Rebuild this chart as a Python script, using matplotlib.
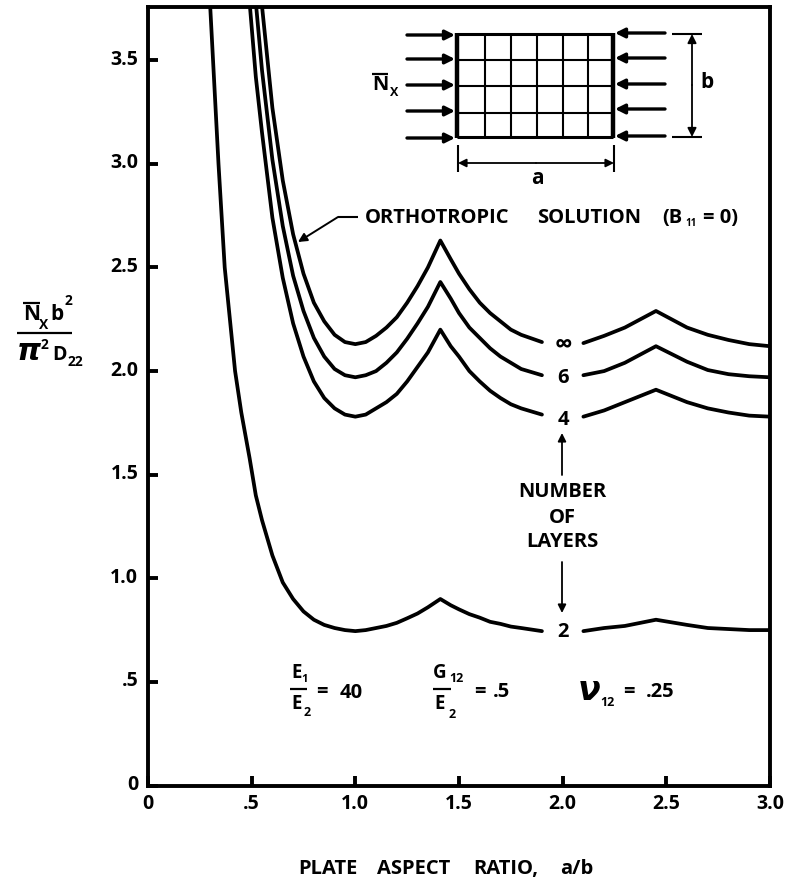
import numpy as np
import matplotlib
matplotlib.use("Agg")
import matplotlib.pyplot as plt
from matplotlib.transforms import ScaledTranslation

plt.rcParams["font.family"] = ["Open Sans", "DejaVu Sans"]
plt.rcParams["font.weight"] = "bold"

# Aspect ratios and buckling loads, nan = gap for the label
ratio = [0.30, 0.34, 0.37, 0.42, 0.45, 0.49, 0.52, 0.55, 0.60, 0.65, 0.70, 0.75,
         0.80, 0.85, 0.90, 0.95, 1.00, 1.05, 1.10, 1.15, 1.20, 1.25, 1.30, 1.35, 1.41,
         1.46, 1.50, 1.55, 1.60, 1.65, 1.70, 1.75, 1.80, 1.90, np.nan,
         2.10, 2.20, 2.30, 2.45, 2.60, 2.70, 2.80, 2.90, 3.00]
layers_inf = [np.nan, np.nan, np.nan, np.nan, np.nan, np.nan, 4.30, 3.76, 3.27, 2.92, 2.66, 2.47,
              2.33, 2.24, 2.175, 2.14, 2.13, 2.14, 2.17, 2.21, 2.26, 2.33, 2.41, 2.50, 2.63,
              2.54, 2.47, 2.395, 2.33, 2.28, 2.24, 2.20, 2.175, 2.14, np.nan,
              2.135, 2.17, 2.21, 2.29, 2.21, 2.175, 2.15, 2.13, 2.12]
layers_6 = [np.nan, np.nan, np.nan, np.nan, np.nan, 4.20, 3.78, 3.45, 3.02, 2.70, 2.46, 2.29,
            2.16, 2.07, 2.01, 1.98, 1.97, 1.98, 2.00, 2.04, 2.09, 2.156, 2.23, 2.31, 2.43,
            2.35, 2.28, 2.21, 2.16, 2.11, 2.07, 2.04, 2.01, 1.98, np.nan,
            1.98, 2.00, 2.04, 2.12, 2.045, 2.005, 1.985, 1.975, 1.97]
layers_4 = [np.nan, np.nan, np.nan, np.nan, np.nan, 3.78, 3.42, 3.15, 2.74, 2.45, 2.23, 2.07,
            1.95, 1.87, 1.82, 1.79, 1.78, 1.79, 1.82, 1.85, 1.89, 1.95, 2.02, 2.09, 2.20,
            2.12, 2.07, 2.00, 1.95, 1.905, 1.87, 1.84, 1.82, 1.79, np.nan,
            1.78, 1.81, 1.85, 1.91, 1.85, 1.82, 1.80, 1.785, 1.78]
layers_2 = [3.76, 3.00, 2.50, 2.00, 1.80, 1.58, 1.40, 1.28, 1.11, 0.98, 0.90, 0.84,
            0.80, 0.775, 0.76, 0.75, 0.745, 0.75, 0.76, 0.77, 0.785, 0.807, 0.83, 0.86, 0.90,
            0.87, 0.85, 0.827, 0.81, 0.79, 0.78, 0.767, 0.76, 0.745, np.nan,
            0.745, 0.76, 0.77, 0.80, 0.775, 0.76, 0.755, 0.75, 0.75]

x_ticks = [0, 0.5, 1.0, 1.5, 2.0, 2.5, 3.0]
x_labels = ["0", ".5", "1.0", "1.5", "2.0", "2.5", "3.0"]
y_ticks = [0, 0.5, 1.0, 1.5, 2.0, 2.5, 3.0, 3.5]
y_labels = ["0", ".5", "1.0", "1.5", "2.0", "2.5", "3.0", "3.5"]

W, H = 786, 885
fig = plt.figure(figsize=(W / 100, H / 100), dpi=100)
ax = fig.add_axes([148 / W, 1 - 785.5 / H, 622 / W, 778.5 / H])
for vals in [layers_inf, layers_6, layers_4, layers_2]:
    ax.plot(ratio, vals, color="black", lw=2.7, solid_joinstyle="round", solid_capstyle="round")
ax.set_xlim(0, 3.0)
ax.set_ylim(0, 3.757)
ax.set_xticks(x_ticks, x_labels, fontsize=14)
ax.set_yticks(y_ticks, y_labels, fontsize=14)
ax.tick_params(direction="in", length=7.5, width=2.8)
ax.tick_params(axis="y", pad=7)
ax.tick_params(axis="x", pad=6)
for t in ax.get_yticklabels():
    t.set_transform(t.get_transform() + ScaledTranslation(0, 3 / 100, fig.dpi_scale_trans))
for s in ax.spines.values():
    s.set_linewidth(2.8)

# overlay in pixel coordinates for the sketch and the notes
ov = fig.add_axes([0, 0, 1, 1])
ov.set_xlim(0, W)
ov.set_ylim(H, 0)
ov.axis("off")
ov.patch.set_alpha(0)


def label(x, y, s, size=14.5, **kw):
    ov.text(x, y, s, fontsize=size, ha=kw.pop("ha", "center"), va="center", **kw)


def line(xs, ys, lw=2.0):
    ov.plot(xs, ys, color="black", lw=lw, solid_capstyle="butt")


def arrow(x0, y0, x1, y1, lw=1.6, scale=13):
    ov.annotate("", xy=(x1, y1), xytext=(x0, y0),
                arrowprops=dict(arrowstyle="-|>", color="black", lw=lw,
                                mutation_scale=scale, shrinkA=0, shrinkB=0))


# plate grid
for yy in [60, 86, 113]:
    line([457, 613], [yy, yy], 1.5)
for xx in [485, 511, 537, 563, 588]:
    line([xx, xx], [34, 137], 1.5)
line([457, 613], [34, 34], 2.2)
line([457, 613], [137, 137], 2.2)
line([457, 457], [33, 138], 3.2)
line([613, 613], [33, 138], 3.2)
for yy in [35, 59, 85, 111, 138]:
    arrow(407, yy, 455, yy, 2.4, 14)
for yy in [33, 58, 84, 109, 136]:
    arrow(665, yy, 615, yy, 2.4, 14)
line([672, 702], [34, 34], 1.5)
line([672, 702], [137, 137], 1.5)
arrow(692, 85, 692, 34, 1.3, 13)
arrow(692, 85, 692, 137, 1.3, 13)
label(707, 83, "b", 15)
line([458, 458], [145, 172], 1.5)
line([614, 614], [145, 172], 1.5)
arrow(536, 163, 458, 163, 1.3, 12)
arrow(536, 163, 614, 163, 1.3, 12)
label(537, 178, "a", 15)
label(380, 85, "N", 14.5)
line([372, 388], [74, 74], 1.6)
label(394, 93, "X", 9)

# orthotropic leader
label(365, 218, "ORTHOTROPIC", ha="left")
label(537, 218, "SOLUTION", ha="left")
label(662, 218, "(B", ha="left")
label(685, 223, "11", 7, ha="left")
label(703, 218, "= 0)", ha="left")
line([338, 358], [217, 217], 1.5)
arrow(338, 217, 298, 242, 1.4, 13)

# curve labels
label(563, 345, "\u221e", 18)
label(563, 378, "6")
label(563, 420, "4")
label(563, 632, "2")
label(562, 492, "NUMBER")
label(562, 518, "OF")
label(562, 542, "LAYERS")
arrow(562, 475, 562, 433, 1.3, 12)
arrow(562, 562, 562, 613, 1.3, 12)

# y axis label
label(32, 315, "N", 15)
line([23, 40], [303, 303], 1.6)
label(44, 325, "X", 10)
label(57, 315, "b", 15)
label(68, 301, "2", 10)
line([17, 72], [333, 333], 1.6)
label(29, 351, "\u03c0", 22, family="DejaVu Sans", style="italic")
label(44, 345, "2", 10)
label(59, 355, "D", 14)
label(75, 362, "22", 10)

# material constants
label(297, 673, "E", 13.5)
label(305, 680, "1", 8)
line([290, 307], [689, 689], 1.6)
label(297, 704, "E", 13.5)
label(307, 713, "2", 9)
label(322, 692, "=", 14.5)
label(351, 693, "40", 14.5)
label(440, 673, "G", 13.5)
label(456, 678, "12", 9)
line([433, 451], [689, 689], 1.6)
label(440, 704, "E", 13.5)
label(452, 714, "2", 9)
label(480, 692, "=", 14.5)
label(502, 692, ".5", 14.5)
label(589, 690, "\u03bd", 24, family="DejaVu Sans", style="italic")
label(607, 702, "12", 9)
label(629, 692, "=", 14.5)
label(660, 692, ".25", 14.5)

label(298, 869, "PLATE", ha="left")
label(377, 869, "ASPECT", ha="left")
label(473, 869, "RATIO,", ha="left")
label(560, 869, "a/b", ha="left")

fig.savefig("out.png", dpi=100)
